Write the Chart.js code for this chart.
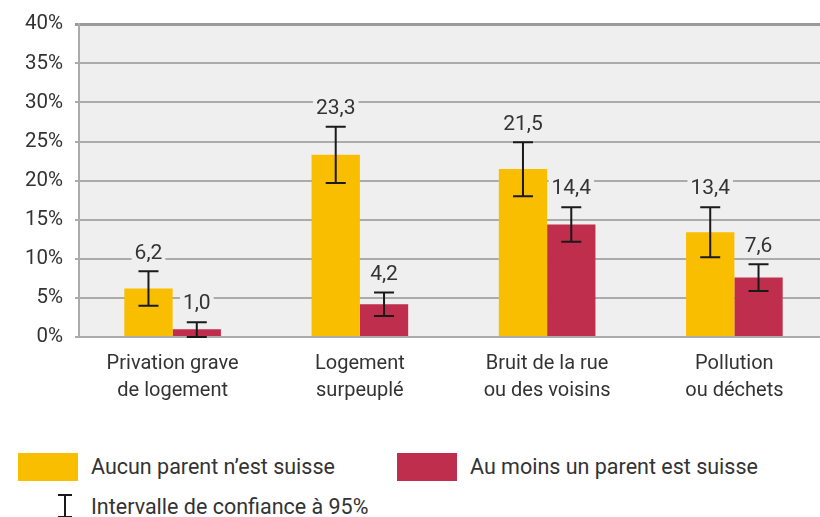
<!DOCTYPE html>
<html>
<head>
<meta charset="utf-8">
<script src="https://cdn.jsdelivr.net/npm/chart.js@4/dist/chart.umd.min.js"></script>
<style>
  html, body { margin: 0; padding: 0; background: #fff; overflow: hidden; }
  #wrap { position: relative; width: 820px; height: 517px; overflow: hidden; font-family: Roboto, sans-serif; color: #333; }
  #box { position: absolute; left: 0; top: 0; width: 828px; height: 420px; }
  .lg-box { position: absolute; width: 60px; height: 28px; }
  .lg-txt { position: absolute; font-size: 21.5px; line-height: 28px; white-space: nowrap; color: #333; }
  .ci { position: absolute; left: 56px; width: 18px; }
</style>
</head>
<body>
<div id="wrap">
  <div id="box"><canvas id="c"></canvas></div>
  <div id="legend"></div>
</div>
<script>
// ---- data ----
const categories = [["Privation grave", "de logement"], ["Logement", "surpeuplé"], ["Bruit de la rue", "ou des voisins"], ["Pollution", "ou déchets"]];
const seriesNames = ["Aucun parent n’est suisse", "Au moins un parent est suisse"];
const aucun = [6.2, 23.3, 21.5, 13.4];
const aucunLow = [4.0, 19.7, 18.0, 10.2];
const aucunHigh = [8.4, 26.9, 24.9, 16.6];
const auMoins = [1.0, 4.2, 14.4, 7.6];
const auMoinsLow = [0.0, 2.7, 12.2, 5.9];
const auMoinsHigh = [1.9, 5.7, 16.6, 9.3];
const yTicks = [0, 5, 10, 15, 20, 25, 30, 35, 40];
const ciLabel = "Intervalle de confiance à 95%";

const colors = ["#F9BE00", "#BF2E4C"];
const lows = [aucunLow, auMoinsLow];
const highs = [aucunHigh, auMoinsHigh];

const plotBg = {
  id: 'plotBg',
  beforeDraw(chart) {
    const { ctx, chartArea: a } = chart;
    ctx.save();
    ctx.fillStyle = '#EFEFEF';
    ctx.fillRect(a.left, a.top, chart.width - a.left, a.bottom - a.top);
    ctx.restore();
  }
};

const errLabels = {
  id: 'errLabels',
  afterDatasetsDraw(chart) {
    const { ctx } = chart;
    const y = chart.scales.y;
    ctx.save();
    chart.data.datasets.forEach((ds, di) => {
      const meta = chart.getDatasetMeta(di);
      meta.data.forEach((bar, i) => {
        const x = bar.x;
        const yHi = y.getPixelForValue(highs[di][i]);
        const yLo = y.getPixelForValue(lows[di][i]);
        ctx.strokeStyle = '#1a1a1a';
        ctx.lineWidth = 2;
        ctx.beginPath();
        ctx.moveTo(x, yHi); ctx.lineTo(x, yLo);
        ctx.moveTo(x - 10, yHi); ctx.lineTo(x + 10, yHi);
        ctx.moveTo(x - 10, yLo); ctx.lineTo(x + 10, yLo);
        ctx.stroke();
        // value label
        const txt = ds.data[i].toFixed(1).replace('.', ',');
        ctx.font = '21px Roboto';
        const w = ctx.measureText(txt).width;
        const cy = yHi - 18;
        ctx.fillStyle = '#EFEFEF';
        ctx.fillRect(x - w / 2 - 3, cy - 10, w + 6, 20);
        ctx.fillStyle = '#333';
        ctx.textAlign = 'center';
        ctx.textBaseline = 'middle';
        ctx.fillText(txt, x, cy);
      });
    });
    ctx.restore();
  }
};

new Chart(document.getElementById('c'), {
  type: 'bar',
  data: {
    labels: categories,
    datasets: [
      { label: seriesNames[0], data: aucun, backgroundColor: colors[0] },
      { label: seriesNames[1], data: auMoins, backgroundColor: colors[1] }
    ]
  },
  options: {
    responsive: true,
    maintainAspectRatio: false,
    animation: false,
    categoryPercentage: 0.516,
    barPercentage: 1.0,
    layout: { padding: { top: 21, left: 0, right: 0, bottom: 0 } },
    plugins: { legend: { display: false }, tooltip: { enabled: false } },
    scales: {
      x: {
        grid: { display: false, drawTicks: false },
        border: { display: false },
        ticks: {
          color: '#333',
          font: { family: 'Roboto', size: 20, lineHeight: 1.35 },
          padding: 13,
          maxRotation: 0,
          autoSkip: false
        },
        afterFit(s) { s.height = 83; }
      },
      y: {
        min: 0, max: 40,
        afterBuildTicks(s) { s.ticks = yTicks.map(v => ({ value: v })); },
        ticks: {
          color: '#333',
          font: { family: 'Roboto', size: 20.5 },
          padding: 12,
          callback: v => v + '%'
        },
        grid: {
          color: ctx => ctx.tick && ctx.tick.value === 40 ? '#9a9a9a' : '#ababab',
          lineWidth: ctx => ctx.tick && ctx.tick.value === 40 ? 3 : 2,
          tickLength: 4,
          drawTicks: true
        },
        border: { display: true, color: '#ababab', width: 2 },
        afterFit(s) { s.width = 79; }
      }
    }
  },
  plugins: [plotBg, errLabels]
});

// ---- legend (HTML) ----
const lg = document.getElementById('legend');
const items = [
  { left: 18, txtLeft: 91, name: seriesNames[0], color: colors[0] },
  { left: 397, txtLeft: 470, name: seriesNames[1], color: colors[1] }
];
items.forEach(it => {
  const b = document.createElement('div');
  b.className = 'lg-box';
  b.style.left = it.left + 'px'; b.style.top = '453px'; b.style.background = it.color;
  lg.appendChild(b);
  const t = document.createElement('div');
  t.className = 'lg-txt';
  t.style.left = it.txtLeft + 'px'; t.style.top = '453px';
  t.textContent = it.name;
  lg.appendChild(t);
});
const ci = document.createElement('div');
ci.className = 'ci';
ci.style.top = '494px';
ci.innerHTML = '<svg width="18" height="24" style="display:block"><path d="M2 1H16M9 1V23M2 23H16" stroke="#1a1a1a" stroke-width="2" fill="none"/></svg>';
lg.appendChild(ci);
const ct = document.createElement('div');
ct.className = 'lg-txt';
ct.style.left = '91px'; ct.style.top = '493px';
ct.textContent = ciLabel;
lg.appendChild(ct);
</script>
</body>
</html>
